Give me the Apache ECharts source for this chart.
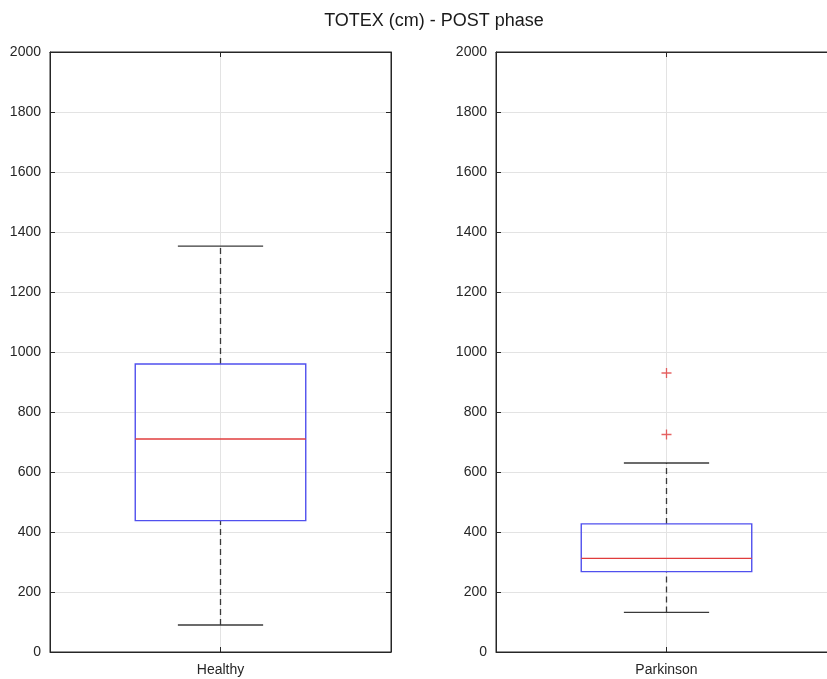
<!DOCTYPE html>
<html>
<head>
<meta charset="utf-8">
<title>TOTEX (cm) - POST phase</title>
<script src="https://cdn.jsdelivr.net/npm/echarts@6/dist/echarts.min.js"></script>
<style>
  html, body { margin: 0; padding: 0; background: #ffffff; overflow: hidden; }
  #chart { width: 845px; height: 679px; }
</style>
</head>
<body>
<div id="chart"></div>
<script>
// Group names and box-plot statistics (TOTEX, cm)
const categories = ['Healthy', 'Parkinson'];
const lowerWhisker = [90, 132];
const q1 = [438, 268];
const median = [710, 312];
const q3 = [960, 427];
const upperWhisker = [1353, 630];
const outliers = [[], [725, 930]];

// Y-axis scale
const yMin = 0;
const yMax = 2000;
const yStep = 200;

const titleText = 'TOTEX (cm) - POST phase';

const FONT = "'Liberation Sans', Arial, Helvetica, sans-serif";
const AXIS_COLOR = '#262626';
const GRID_COLOR = '#e3e3e3';
const BOX_COLOR = '#5050ee';
const MEDIAN_COLOR = '#e03c3c';
const WHISKER_COLOR = '#3a3a3a';

// Panel geometry
const panels = [
  { left: 50, top: 52, width: 341, height: 600 },
  { left: 496, top: 52, width: 341, height: 600 }
];

const grids = [];
const xAxes = [];
const yAxes = [];
const series = [];

panels.forEach(function (p, i) {
  grids.push({
    left: p.left, top: p.top, width: p.width, height: p.height,
    show: true, borderColor: AXIS_COLOR, borderWidth: 1,
    backgroundColor: '#ffffff', containLabel: false,
    outerBoundsMode: 'none'
  });

  // bottom x axis with the group name at the box position
  xAxes.push({
    gridIndex: i, type: 'value', position: 'bottom',
    min: 0, max: 2, interval: 1,
    axisLine: { show: true, onZero: false, lineStyle: { color: AXIS_COLOR, width: 1 } },
    axisTick: { show: true, inside: true, length: 5, lineStyle: { color: AXIS_COLOR } },
    splitLine: { show: true, lineStyle: { color: GRID_COLOR, width: 1 } },
    axisLabel: {
      show: true, margin: 11, fontSize: 14, fontFamily: FONT, color: AXIS_COLOR,
      formatter: function (v) { return v === 1 ? categories[i] : ''; }
    }
  });
  // top mirror axis (ticks only)
  xAxes.push({
    gridIndex: i, type: 'value', position: 'top',
    min: 0, max: 2, interval: 1,
    axisLine: { show: true, onZero: false, lineStyle: { color: AXIS_COLOR, width: 1 } },
    axisTick: { show: true, inside: true, length: 5, lineStyle: { color: AXIS_COLOR } },
    splitLine: { show: false },
    axisLabel: { show: false }
  });

  // left y axis with labels
  yAxes.push({
    gridIndex: i, type: 'value', position: 'left',
    min: yMin, max: yMax, interval: yStep,
    axisLine: { show: true, onZero: false, lineStyle: { color: AXIS_COLOR, width: 1 } },
    axisTick: { show: true, inside: true, length: 5, lineStyle: { color: AXIS_COLOR } },
    splitLine: { show: true, lineStyle: { color: GRID_COLOR, width: 1 } },
    axisLabel: {
      show: true, margin: 9, fontSize: 14, fontFamily: FONT, color: AXIS_COLOR,
      formatter: function (v) { return String(v); }
    }
  });
  // right mirror axis (ticks only)
  yAxes.push({
    gridIndex: i, type: 'value', position: 'right',
    min: yMin, max: yMax, interval: yStep,
    axisLine: { show: true, onZero: false, lineStyle: { color: AXIS_COLOR, width: 1 } },
    axisTick: { show: true, inside: true, length: 5, lineStyle: { color: AXIS_COLOR } },
    splitLine: { show: false },
    axisLabel: { show: false }
  });

  // box, median, whiskers and caps
  series.push({
    type: 'custom',
    xAxisIndex: i * 2,
    yAxisIndex: i * 2,
    clip: false,
    data: [[1, lowerWhisker[i], q1[i], median[i], q3[i], upperWhisker[i]]],
    renderItem: function (params, api) {
      const x = api.value(0);
      const pLow = api.coord([x, api.value(1)]);
      const pQ1 = api.coord([x, api.value(2)]);
      const pMed = api.coord([x, api.value(3)]);
      const pQ3 = api.coord([x, api.value(4)]);
      const pHigh = api.coord([x, api.value(5)]);
      const halfBox = api.size([0.5, 0])[0];
      const halfCap = api.size([0.25, 0])[0];
      const cx = pMed[0];
      const dashed = { stroke: WHISKER_COLOR, lineWidth: 1.3, lineDash: [6, 4] };
      const solid = { stroke: WHISKER_COLOR, lineWidth: 1.3 };
      return {
        type: 'group',
        children: [
          { type: 'line', shape: { x1: cx, y1: pQ3[1], x2: cx, y2: pHigh[1] }, style: dashed },
          { type: 'line', shape: { x1: cx, y1: pLow[1], x2: cx, y2: pQ1[1] }, style: dashed },
          { type: 'line', shape: { x1: cx - halfCap, y1: pHigh[1], x2: cx + halfCap, y2: pHigh[1] }, style: solid },
          { type: 'line', shape: { x1: cx - halfCap, y1: pLow[1], x2: cx + halfCap, y2: pLow[1] }, style: solid },
          {
            type: 'rect',
            shape: { x: cx - halfBox, y: pQ3[1], width: 2 * halfBox, height: pQ1[1] - pQ3[1] },
            style: { fill: 'none', stroke: BOX_COLOR, lineWidth: 1.4 }
          },
          {
            type: 'line',
            shape: { x1: cx - halfBox, y1: pMed[1], x2: cx + halfBox, y2: pMed[1] },
            style: { stroke: MEDIAN_COLOR, lineWidth: 1.3 }
          }
        ]
      };
    }
  });

  // outliers as '+' markers
  series.push({
    type: 'scatter',
    xAxisIndex: i * 2,
    yAxisIndex: i * 2,
    symbol: 'path://M4.35,0H5.65V4.35H10V5.65H5.65V10H4.35V5.65H0V4.35H4.35Z',
    symbolSize: 10,
    itemStyle: { color: MEDIAN_COLOR },
    silent: true,
    data: outliers[i].map(function (v) { return [1, v]; })
  });
});

const chart = echarts.init(document.getElementById('chart'), null, { renderer: 'canvas' });
chart.setOption({
  animation: false,
  backgroundColor: '#ffffff',
  title: {
    text: titleText,
    left: 429,
    top: 7,
    textAlign: 'center',
    textStyle: { fontSize: 18, fontWeight: 'normal', fontFamily: FONT, color: '#1a1a1a' }
  },
  grid: grids,
  xAxis: xAxes,
  yAxis: yAxes,
  series: series
});
</script>
</body>
</html>
